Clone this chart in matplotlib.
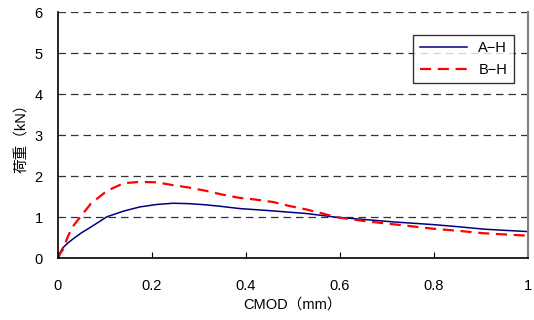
import matplotlib
matplotlib.use("Agg")
import matplotlib.pyplot as plt

plt.rcParams['font.family'] = ['Liberation Sans', 'Noto Sans CJK JP', 'DejaVu Sans']

# A-H curve
ah_x = [0, 0.005, 0.01, 0.02, 0.033, 0.05, 0.07, 0.104, 0.14, 0.174, 0.21, 0.245,
        0.28, 0.316, 0.35, 0.387, 0.45, 0.528, 0.592, 0.656, 0.72, 0.798, 0.85,
        0.905, 0.95, 1.0]
ah_y = [0, 0.15, 0.25, 0.36, 0.48, 0.62, 0.76, 1.01, 1.15, 1.25, 1.31, 1.34,
        1.33, 1.30, 1.26, 1.21, 1.16, 1.09, 1.00, 0.94, 0.88, 0.82, 0.77,
        0.71, 0.68, 0.65]

# B-H curve
bh_x = [0, 0.005, 0.011, 0.02, 0.03, 0.047, 0.07, 0.104, 0.14, 0.174, 0.21, 0.245,
        0.28, 0.316, 0.35, 0.387, 0.42, 0.458, 0.49, 0.528, 0.56, 0.592, 0.656,
        0.72, 0.798, 0.85, 0.905, 0.95, 1.0]
bh_y = [0, 0.12, 0.22, 0.5, 0.75, 1.0, 1.33, 1.64, 1.83, 1.86, 1.85, 1.78,
        1.72, 1.64, 1.55, 1.47, 1.43, 1.37, 1.28, 1.19, 1.10, 1.00, 0.90,
        0.82, 0.72, 0.67, 0.61, 0.58, 0.55]

x_ticks = [0, 0.2, 0.4, 0.6, 0.8, 1.0]
x_labels = ["0", "0.2", "0.4", "0.6", "0.8", "1"]
y_ticks = [0, 1, 2, 3, 4, 5, 6]

fig = plt.figure(figsize=(5.34, 3.2), dpi=100)
ax = fig.add_axes([0.1086, 0.193, 0.880, 0.7695])

ax.plot(ah_x, ah_y, color='#000080', linewidth=1.1, label='A\u2212H')
ax.plot(bh_x, bh_y, color='#ff0000', linewidth=1.6, linestyle=(0, (5, 3)), label='B\u2212H')

ax.set_xlim(0, 1)
ax.set_ylim(0, 6)
ax.set_xticks(x_ticks)
ax.set_xticklabels(x_labels)
ax.set_yticks(y_ticks)

ax.grid(axis='y', color='#333333', linestyle=(0, (6, 4)), linewidth=0.9)
ax.set_axisbelow(True)

ax.spines['top'].set_visible(False)
ax.spines['right'].set_color('#808080')
ax.spines['right'].set_linewidth(1.5)
ax.spines['left'].set_linewidth(1.2)
ax.spines['bottom'].set_linewidth(1.2)

ax.tick_params(axis='x', direction='in', length=4, pad=15, labelsize=10.5)
ax.tick_params(axis='y', length=0, pad=11, labelsize=10.5)

ax.set_xlabel('CMOD（mm）', fontsize=10.5, labelpad=3)
ax.set_ylabel('荷重（kN）', fontsize=10.5, labelpad=4)

leg = ax.legend(loc='upper right', bbox_to_anchor=(0.970, 0.907), borderaxespad=0,
                fontsize=10.5, frameon=True, fancybox=False, edgecolor='black',
                handlelength=3.2, borderpad=0.45, labelspacing=0.5)
leg.get_frame().set_linewidth(1.0)

fig.savefig('out.png', dpi=100)
